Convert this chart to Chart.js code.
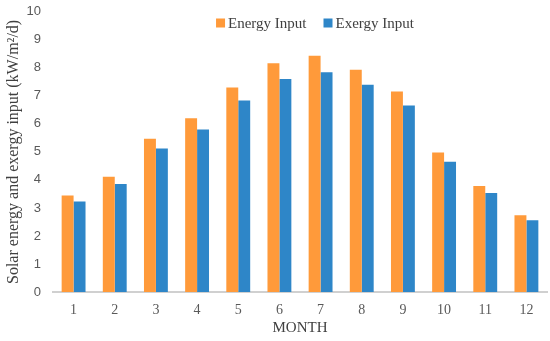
<!DOCTYPE html>
<html>
<head>
<meta charset="utf-8">
<script src="https://cdn.jsdelivr.net/npm/chart.js@4"></script>
<style>
  html, body { margin: 0; padding: 0; background: #fff; }
  #wrap { width: 550px; height: 341px; }
</style>
</head>
<body>
<div id="wrap"><canvas id="c"></canvas></div>
<script>
// months and daily solar input (kW/m2/d)
const months = ['1', '2', '3', '4', '5', '6', '7', '8', '9', '10', '11', '12'];
const energyInput = [3.44, 4.11, 5.47, 6.20, 7.30, 8.16, 8.43, 7.93, 7.16, 4.98, 3.78, 2.74];
const exergyInput = [3.23, 3.85, 5.12, 5.80, 6.83, 7.60, 7.84, 7.40, 6.66, 4.65, 3.53, 2.56];

const serif = "'Liberation Serif', 'Times New Roman', serif";
const sans = "'Liberation Sans', Arial, sans-serif";

// legend sits inside the plot, above the bars, so draw it by hand
const innerLegend = {
  id: 'innerLegend',
  afterDraw: (chart) => {
    const c = chart.ctx;
    const sets = chart.data.datasets;
    const box = 9, gap = 3, itemGap = 17;
    c.save();
    c.font = '15px ' + serif;
    c.textBaseline = 'middle';
    let total = 0;
    const widths = sets.map(d => c.measureText(d.label).width);
    widths.forEach(w => total += box + gap + w);
    total += itemGap * (sets.length - 1);
    let x = 315 - total / 2;
    const y = 23;
    sets.forEach((d, i) => {
      c.fillStyle = d.backgroundColor;
      c.fillRect(x, y - box / 2, box, box);
      x += box + gap;
      c.fillStyle = '#404040';
      c.fillText(d.label, x, y + 1);
      x += widths[i] + itemGap;
    });
    c.restore();
  }
};

const ctx = document.getElementById('c').getContext('2d');
new Chart(ctx, {
  type: 'bar',
  data: {
    labels: months,
    datasets: [
      { label: 'Energy Input', data: energyInput, backgroundColor: '#FF9A3A' },
      { label: 'Exergy Input', data: exergyInput, backgroundColor: '#2E86C8' }
    ]
  },
  options: {
    responsive: true,
    maintainAspectRatio: false,
    animation: false,
    layout: { padding: { top: 2, right: 3, left: 0, bottom: 0 } },
    datasets: { bar: { categoryPercentage: 0.58, barPercentage: 1 } },
    scales: {
      x: {
        grid: { display: false },
        border: { color: '#D0D0D0', width: 2 },
        ticks: { color: '#595959', font: { family: serif, size: 14 }, padding: 2 },
        title: { display: true, text: 'MONTH', color: '#404040', font: { family: serif, size: 15 }, padding: { top: 4 } },
        afterFit: (s) => { s.height = 49; }
      },
      y: {
        min: 0,
        max: 10,
        grid: { display: false },
        border: { display: false },
        ticks: { stepSize: 1, color: '#595959', font: { family: sans, size: 13 }, padding: 4 },
        title: { display: true, text: 'Solar energy and exergy input (kW/m\u00B2/d)', color: '#404040', font: { family: serif, size: 16 }, padding: { bottom: 2 } },
        afterFit: (s) => { s.width = 53; }
      }
    },
    plugins: {
      legend: { display: false },
      tooltip: { enabled: false }
    }
  },
  plugins: [innerLegend]
});
</script>
</body>
</html>
